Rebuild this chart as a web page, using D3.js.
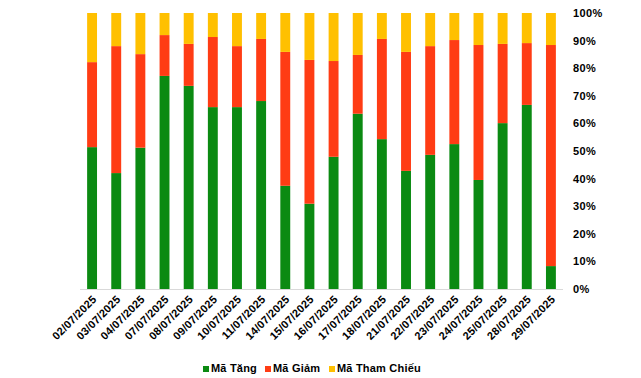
<!DOCTYPE html>
<html>
<head>
<meta charset="utf-8">
<script src="https://cdn.jsdelivr.net/npm/d3@7"></script>
<style>
  body { margin: 0; background: #fff; }
  text { font-family: "Liberation Sans", Arial, sans-serif; font-weight: bold; fill: #000; }
</style>
</head>
<body>
<div id="chart"></div>
<script>
//////////////////////////////////////////////////////////////
//////////////////////////// Data ////////////////////////////
//////////////////////////////////////////////////////////////

const dates = ["02/07/2025","03/07/2025","04/07/2025","07/07/2025","08/07/2025","09/07/2025","10/07/2025","11/07/2025","14/07/2025","15/07/2025","16/07/2025","17/07/2025","18/07/2025","21/07/2025","22/07/2025","23/07/2025","24/07/2025","25/07/2025","28/07/2025","29/07/2025"]
const maTang = [51.4, 42.0, 51.2, 77.2, 73.6, 65.9, 65.9, 68.1, 37.4, 30.9, 47.9, 63.5, 54.3, 42.8, 48.6, 52.5, 39.5, 60.1, 66.7, 8.3]
const maGiam = [30.8, 46.0, 33.9, 14.8, 15.2, 25.4, 22.1, 22.5, 48.5, 52.1, 34.7, 21.3, 36.3, 43.1, 39.4, 37.7, 48.9, 28.7, 22.4, 80.1]
const maThamChieu = [17.8, 12.0, 14.9, 8.0, 11.2, 8.7, 12.0, 9.4, 14.1, 17.0, 17.4, 15.2, 9.4, 14.1, 12.0, 9.8, 11.6, 11.2, 10.9, 11.6]
const seriesNames = ["Mã Tăng", "Mã Giảm", "Mã Tham Chiếu"]
const colors = ["#0b8a12", "#ff3c14", "#ffc000"]
const yTicks = [0, 0.1, 0.2, 0.3, 0.4, 0.5, 0.6, 0.7, 0.8, 0.9, 1]

//////////////////////////////////////////////////////////////
///////////////////////// Create SVG /////////////////////////
//////////////////////////////////////////////////////////////

const width = 641
const height = 378
const plot = { left: 80, right: 563, top: 13, bottom: 289 }

const svg = d3.select("#chart").append("svg")
    .attr("width", width)
    .attr("height", height)

const keys = ["tang", "giam", "tham"]
const table = dates.map((d, i) => {
    const total = maTang[i] + maGiam[i] + maThamChieu[i]
    return { date: d, tang: maTang[i] / total, giam: maGiam[i] / total, tham: maThamChieu[i] / total }
})
const stacked = d3.stack().keys(keys)(table)

//////////////////////////////////////////////////////////////
/////////////////////////// Scales ///////////////////////////
//////////////////////////////////////////////////////////////

const x = d3.scaleBand()
    .domain(dates)
    .range([plot.left, plot.right])
    .paddingInner(0.59)
    .paddingOuter(0.295)

const y = d3.scaleLinear()
    .domain([0, 1])
    .range([plot.bottom, plot.top])

//////////////////////////////////////////////////////////////
//////////////////////////// Bars ////////////////////////////
//////////////////////////////////////////////////////////////

svg.append("g").attr("class", "bar-group")
    .selectAll("g")
    .data(stacked)
    .enter().append("g")
    .style("fill", (d, i) => colors[i])
    .selectAll("rect")
    .data(d => d)
    .enter().append("rect")
    .attr("x", d => x(d.data.date))
    .attr("width", x.bandwidth())
    .attr("y", d => y(d[1]))
    .attr("height", d => y(d[0]) - y(d[1]))

//////////////////////////////////////////////////////////////
//////////////////////////// Axes ////////////////////////////
//////////////////////////////////////////////////////////////

svg.append("line")
    .attr("x1", plot.left).attr("x2", plot.right)
    .attr("y1", plot.bottom + 0.5).attr("y2", plot.bottom + 0.5)
    .style("stroke", "#d9d9d9")
    .style("stroke-width", 1)

const yAxis = svg.append("g")
    .attr("transform", "translate(" + (plot.right + 10) + ",0)")
    .call(d3.axisRight(y).tickValues(yTicks).tickFormat(d3.format(".0%")).tickSize(0).tickPadding(0))
yAxis.select(".domain").remove()
yAxis.selectAll("text")
    .style("font-size", "11px")
    .style("letter-spacing", "0.4px")
    .style("font-family", "'Liberation Sans', Arial, sans-serif")
    .style("font-weight", "bold")
    .attr("fill", "#000")

const xAxis = svg.append("g")
    .attr("transform", "translate(0," + plot.bottom + ")")
    .call(d3.axisBottom(x).tickSize(0).tickPadding(0))
xAxis.select(".domain").remove()
xAxis.selectAll("text")
    .attr("dy", null)
    .attr("y", 0)
    .attr("transform", "translate(3,9) rotate(-45)")
    .style("text-anchor", "end")
    .attr("dominant-baseline", "middle")
    .style("font-size", "11px")
    .style("letter-spacing", "0.2px")
    .style("font-family", "'Liberation Sans', Arial, sans-serif")
    .style("font-weight", "bold")
    .attr("fill", "#000")

//////////////////////////////////////////////////////////////
/////////////////////////// Legend ///////////////////////////
//////////////////////////////////////////////////////////////

const legendX = [203, 265, 329]
const legend = svg.append("g").attr("class", "legend")
    .selectAll("g")
    .data(seriesNames)
    .enter().append("g")
    .attr("transform", (d, i) => "translate(" + legendX[i] + ",369)")

legend.append("rect")
    .attr("x", 0).attr("y", -3)
    .attr("width", 6).attr("height", 6)
    .style("fill", (d, i) => colors[i])

legend.append("text")
    .attr("x", 8)
    .attr("y", 0)
    .attr("dominant-baseline", "middle")
    .style("font-size", "11px")
    .style("letter-spacing", "0.2px")
    .text(d => d)
</script>
</body>
</html>
